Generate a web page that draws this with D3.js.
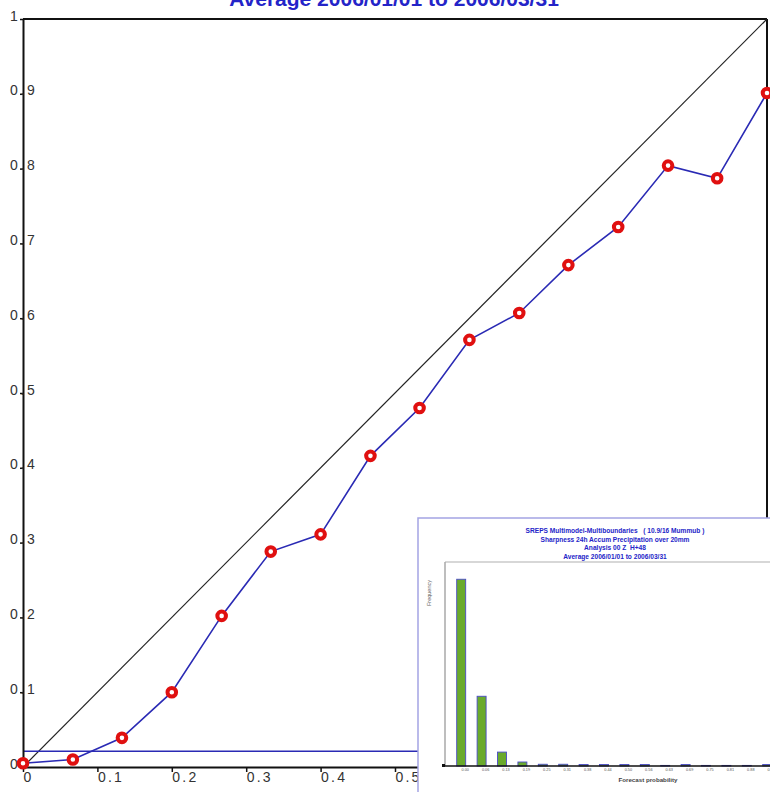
<!DOCTYPE html>
<html>
<head>
<meta charset="utf-8">
<script src="https://cdn.jsdelivr.net/npm/d3@7"></script>
<style>
  html, body { margin: 0; padding: 0; background: #fff; }
  svg { display: block; }
  .pre { white-space: pre; }
</style>
</head>
<body>
<script>
// Reliability diagram: observed frequency vs forecast probability
const forecastProb = [0, 0.067, 0.133, 0.2, 0.267, 0.333, 0.4, 0.467, 0.533, 0.6, 0.667, 0.733, 0.8, 0.867, 0.933, 1.0];
const observedFreq = [0.005, 0.010, 0.039, 0.100, 0.202, 0.288, 0.311, 0.416, 0.480, 0.571, 0.607, 0.671, 0.722, 0.804, 0.787, 0.901];
const climatology = 0.021;
const axisTicks = [0, 0.1, 0.2, 0.3, 0.4, 0.5, 0.6, 0.7, 0.8, 0.9, 1];
// x labels that sit under the inset panel are left out
const xLabelled = [0, 0.1, 0.2, 0.3, 0.4, 0.5];

// Sharpness histogram (inset)
const sharpCategories = ["0.00", "0.06", "0.13", "0.19", "0.25", "0.31", "0.38", "0.44", "0.50", "0.56", "0.63", "0.69", "0.75", "0.81", "0.88", "0.94"];
const sharpFreq = [0.657, 0.244, 0.047, 0.012, 0.004, 0.004, 0.003, 0.003, 0.003, 0.003, 0, 0.003, 0, 0, 0, 0.003];

const mainTitle = "Average 2006/01/01 to 2006/03/31";
const insetTitle = [
  "SREPS Multimodel-Multiboundaries   ( 10.9/16 Mummub )",
  "Sharpness 24h Accum Precipitation over 20mm",
  "Analysis 00 Z  H+48",
  "Average 2006/01/01 to 2006/03/31"
];

const W = 770, H = 792;
const svg = d3.select("body").append("svg").attr("width", W).attr("height", H);

const x = d3.scaleLinear().domain([0, 1]).range([23, 767]);
const y = d3.scaleLinear().domain([0, 1]).range([767, 19]);

// title (partly above the page edge)
svg.append("text")
  .attr("x", 394).attr("y", 6)
  .attr("text-anchor", "middle")
  .attr("font-family", "Liberation Sans, Arial, sans-serif")
  .attr("font-weight", "bold").attr("font-size", 21)
  .attr("fill", "#2424c8")
  .text(mainTitle);

// frame: top and right edges
svg.append("line").attr("x1", x(0)).attr("x2", x(1)).attr("y1", y(1)).attr("y2", y(1))
  .attr("stroke", "#111").attr("stroke-width", 2);
svg.append("line").attr("x1", x(1)).attr("x2", x(1)).attr("y1", y(1)).attr("y2", y(0))
  .attr("stroke", "#111").attr("stroke-width", 2);

// perfect reliability diagonal
svg.append("line")
  .attr("x1", x(0)).attr("y1", y(0)).attr("x2", x(1)).attr("y2", y(1))
  .attr("stroke", "#222").attr("stroke-width", 1.2);

// climatology line
svg.append("line")
  .attr("x1", x(0)).attr("x2", x(1))
  .attr("y1", y(climatology)).attr("y2", y(climatology))
  .attr("stroke", "#2a2ab4").attr("stroke-width", 1.6);

// axes
const axisFont = "Liberation Sans, Arial, sans-serif";
const fmt = d => (d === 0 || d === 1) ? String(d) : d.toFixed(1);

const xAxis = svg.append("g")
  .attr("transform", `translate(0,${y(0)})`)
  .call(d3.axisBottom(x).tickValues(axisTicks).tickSize(5).tickSizeOuter(0)
    .tickFormat(d => xLabelled.includes(d) ? fmt(d) : ""));
xAxis.select(".domain").attr("stroke", "#111").attr("stroke-width", 2);
xAxis.selectAll(".tick line").attr("stroke", "#111").attr("stroke-width", 1.5);
xAxis.selectAll(".tick text")
  .attr("text-anchor", "start").attr("x", 0).attr("y", 15).attr("dy", 0)
  .attr("font-family", axisFont).attr("font-size", 14)
  .attr("letter-spacing", 2.2).attr("fill", "#333");

const yAxis = svg.append("g")
  .attr("transform", `translate(${x(0)},0)`)
  .call(d3.axisLeft(y).tickValues(axisTicks).tickSize(3).tickSizeOuter(0).tickFormat(fmt));
yAxis.select(".domain").attr("stroke", "#111").attr("stroke-width", 2);
yAxis.selectAll(".tick line").attr("stroke", "#111").attr("stroke-width", 1.5);
yAxis.selectAll(".tick text")
  .attr("text-anchor", "start").attr("x", -13).attr("y", 1).attr("dy", 0)
  .attr("font-family", axisFont).attr("font-size", 14)
  .attr("letter-spacing", 2.6).attr("fill", "#333");

// reliability curve
const pts = forecastProb.map((p, i) => [p, observedFreq[i]]);
svg.append("path")
  .datum(pts)
  .attr("fill", "none")
  .attr("stroke", "#2a2ab4").attr("stroke-width", 1.6)
  .attr("d", d3.line().x(d => x(d[0])).y(d => y(d[1])));

svg.append("g").selectAll("circle")
  .data(pts).join("circle")
  .attr("cx", d => x(d[0])).attr("cy", d => y(d[1]))
  .attr("r", 4.3)
  .attr("fill", "#fff")
  .attr("stroke", "#e01010").attr("stroke-width", 4);

// ---- inset: sharpness histogram ----
const inset = svg.append("g");
inset.append("rect")
  .attr("x", 418).attr("y", 518).attr("width", 370).attr("height", 290)
  .attr("fill", "#fff").attr("stroke", "#a4a4e4").attr("stroke-width", 1.5);

inset.selectAll("text.ititle")
  .data(insetTitle).join("text")
  .attr("class", "ititle pre")
  .attr("x", 615).attr("y", (d, i) => 533 + i * 8.6)
  .attr("text-anchor", "middle")
  .attr("font-family", axisFont).attr("font-weight", "bold")
  .attr("font-size", 6.6).attr("fill", "#2424c8")
  .text(d => d);

const bx = d3.scaleBand().domain(sharpCategories)
  .range([451, 451 + sharpCategories.length * 20.4])
  .paddingInner(0.56).paddingOuter(0.28);
const by = d3.scaleLinear().domain([0, 0.72]).range([766, 562]);

// plot frame
inset.append("line").attr("x1", 445).attr("x2", 790).attr("y1", by(0.72)).attr("y2", by(0.72))
  .attr("stroke", "#b0b0b0").attr("stroke-width", 1.2);
inset.append("line").attr("x1", 445).attr("x2", 445).attr("y1", by(0.72)).attr("y2", by(0))
  .attr("stroke", "#a8a8a8").attr("stroke-width", 1.5);

inset.append("g").selectAll("rect")
  .data(sharpCategories).join("rect")
  .attr("x", d => bx(d))
  .attr("width", bx.bandwidth())
  .attr("y", (d, i) => by(sharpFreq[i]) - 0.6)
  .attr("height", (d, i) => by(0) - by(sharpFreq[i]) + 0.6)
  .attr("fill", "#6aaa2c")
  .attr("stroke", "#4a4ac8").attr("stroke-width", 0.9);

const bAxis = inset.append("g")
  .attr("transform", `translate(0,${by(0)})`)
  .call(d3.axisBottom(bx).tickSize(0));
bAxis.select(".domain").attr("d", "M445,0H790").attr("stroke", "#111").attr("stroke-width", 1.3);
bAxis.selectAll(".tick text")
  .attr("x", 4).attr("y", 2).attr("dy", "0.71em")
  .attr("font-family", axisFont).attr("font-size", 3.8).attr("fill", "#555");

inset.append("rect").attr("x", 442).attr("y", 764).attr("width", 3).attr("height", 3).attr("fill", "#111");

inset.append("text")
  .attr("transform", "translate(431,593) rotate(-90)")
  .attr("text-anchor", "middle")
  .attr("font-family", axisFont).attr("font-size", 5.5).attr("fill", "#666")
  .text("Frequency");

inset.append("text")
  .attr("x", 648).attr("y", 782)
  .attr("text-anchor", "middle")
  .attr("font-family", axisFont).attr("font-weight", "bold")
  .attr("font-size", 6.2).attr("fill", "#444")
  .text("Forecast probability");
</script>
</body>
</html>
